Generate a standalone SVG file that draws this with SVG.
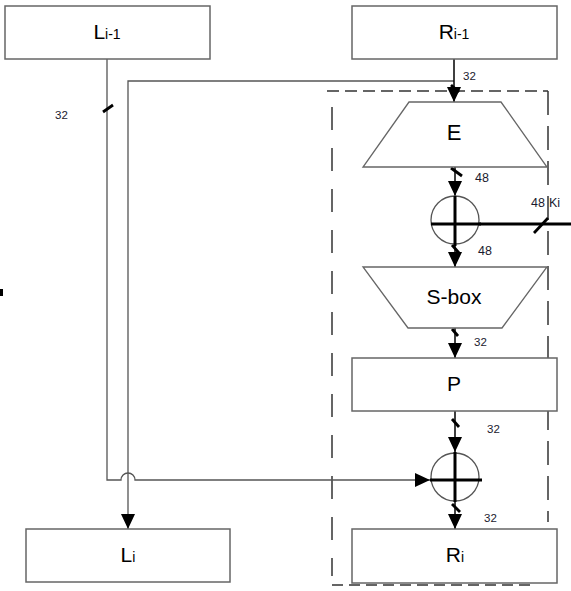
<svg xmlns="http://www.w3.org/2000/svg" width="571" height="591" viewBox="0 0 571 591">
<style>
.box{fill:#fff;stroke:#666;stroke-width:1.5}
.trap{fill:#fff;stroke:#666;stroke-width:1.3}
.ttl{font-family:"Liberation Sans",Arial,sans-serif;fill:#000;text-anchor:middle}
.lbl{font-family:"Liberation Sans",Arial,sans-serif;fill:#1a1a2e;font-size:11.5px}
.wire{fill:none;stroke:#555;stroke-width:1.3}
.flow{fill:none;stroke:#000;stroke-width:1.5}
.slash{stroke:#000;stroke-width:2.8;stroke-linecap:butt}
.xorc{fill:none;stroke:#555;stroke-width:1.3}
.cross{stroke:#000;stroke-width:3}
.dash{fill:none;stroke:#333;stroke-width:1.5}
</style>
<defs>
<marker id="ah" viewBox="0 0 15 14" refX="15" refY="7" markerWidth="15" markerHeight="14" markerUnits="userSpaceOnUse" orient="auto">
<path d="M0,0 L15,7 L0,14 z" fill="#000"/>
</marker>
</defs>
<rect width="571" height="591" fill="#fff"/>
<rect x="0" y="289" width="3" height="7" fill="#000"/>

<g id="round-boundary">
<path class="dash" d="M327,91 H548" stroke-dasharray="12 6"/>
<path class="dash" d="M548,91 V522" stroke-dasharray="24 11"/>
<path class="dash" d="M332,107 V576" stroke-dasharray="23 18"/>
<path class="dash" d="M332,585 H534" stroke-dasharray="11 6"/>
</g>

<g id="connectors">
<path class="wire" d="M107,59 V480 H121 A7,7 0 0 1 135,480 H430" marker-end="url(#ah)"/>
<path class="wire" d="M454,81 H128 V529" marker-end="url(#ah)"/>
<line class="flow" x1="454" y1="59" x2="454" y2="102" marker-end="url(#ah)"/>
<line class="flow" x1="455" y1="167" x2="455" y2="196" marker-end="url(#ah)"/>
<line class="flow" x1="455" y1="244" x2="455" y2="267" marker-end="url(#ah)"/>
<line class="flow" x1="455" y1="328" x2="455" y2="358" marker-end="url(#ah)"/>
<line class="flow" x1="455" y1="411" x2="455" y2="452" marker-end="url(#ah)"/>
<line class="flow" x1="455" y1="501" x2="455" y2="529" marker-end="url(#ah)"/>
<line class="cross" x1="479" y1="224" x2="571" y2="224"/>
<line class="slash" x1="103" y1="112" x2="113" y2="105"/>
<line class="slash" x1="451" y1="85" x2="459" y2="92"/>
<line class="slash" x1="451" y1="168" x2="462" y2="176"/>
<line class="slash" x1="452" y1="245" x2="459" y2="253"/>
<line class="slash" x1="452" y1="329" x2="458" y2="336"/>
<line class="slash" x1="452" y1="419" x2="459" y2="427"/>
<line class="slash" x1="452" y1="504" x2="460" y2="512"/>
<line class="slash" x1="534" y1="233" x2="548" y2="218"/>
<text class="lbl" x="55" y="119">32</text>
<text class="lbl" x="463" y="80">32</text>
<text class="lbl" x="475" y="182" style="font-size:12.5px">48</text>
<text class="lbl" x="478" y="255" style="font-size:12.5px">48</text>
<text class="lbl" x="531" y="207" style="font-size:12.5px">48</text>
<text class="lbl" x="549" y="207" style="font-size:12.5px">Ki</text>
<text class="lbl" x="474" y="346">32</text>
<text class="lbl" x="487" y="433">32</text>
<text class="lbl" x="484" y="522">32</text>
</g>

<g id="L_prev">
<rect class="box" x="5" y="6" width="205" height="53"/>
<text class="ttl" x="107" y="39" font-size="21">L<tspan font-size="14">i-1</tspan></text>
</g>
<g id="R_prev">
<rect class="box" x="352" y="6" width="205" height="53"/>
<text class="ttl" x="454" y="39" font-size="21">R<tspan font-size="14">i-1</tspan></text>
</g>
<g id="E">
<polygon class="trap" points="409,102 501,102 547,167 363,167"/>
<text class="ttl" x="454" y="140" font-size="22">E</text>
</g>
<g id="xor1">
<circle class="xorc" cx="455" cy="220" r="24"/>
<line class="cross" x1="455" y1="196" x2="455" y2="246"/>
<line class="cross" x1="431" y1="224" x2="481" y2="224"/>
</g>
<g id="Sbox">
<polygon class="trap" points="363,267 547,267 502,328 408,328"/>
<text class="ttl" x="454" y="304" font-size="21">S-box</text>
</g>
<g id="P">
<rect class="box" x="352" y="358" width="205" height="53"/>
<text class="ttl" x="454" y="391" font-size="21">P</text>
</g>
<g id="xor2">
<circle class="xorc" cx="455" cy="477" r="24"/>
<line class="cross" x1="455" y1="452" x2="455" y2="502"/>
<line class="cross" x1="430" y1="480" x2="482" y2="480"/>
</g>
<g id="L_i">
<rect class="box" x="26" y="529" width="204" height="53"/>
<text class="ttl" x="128" y="562" font-size="21">L<tspan font-size="14">i</tspan></text>
</g>
<g id="R_i">
<rect class="box" x="352" y="529" width="205" height="54"/>
<text class="ttl" x="455" y="562" font-size="21">R<tspan font-size="14">i</tspan></text>
</g>
</svg>
